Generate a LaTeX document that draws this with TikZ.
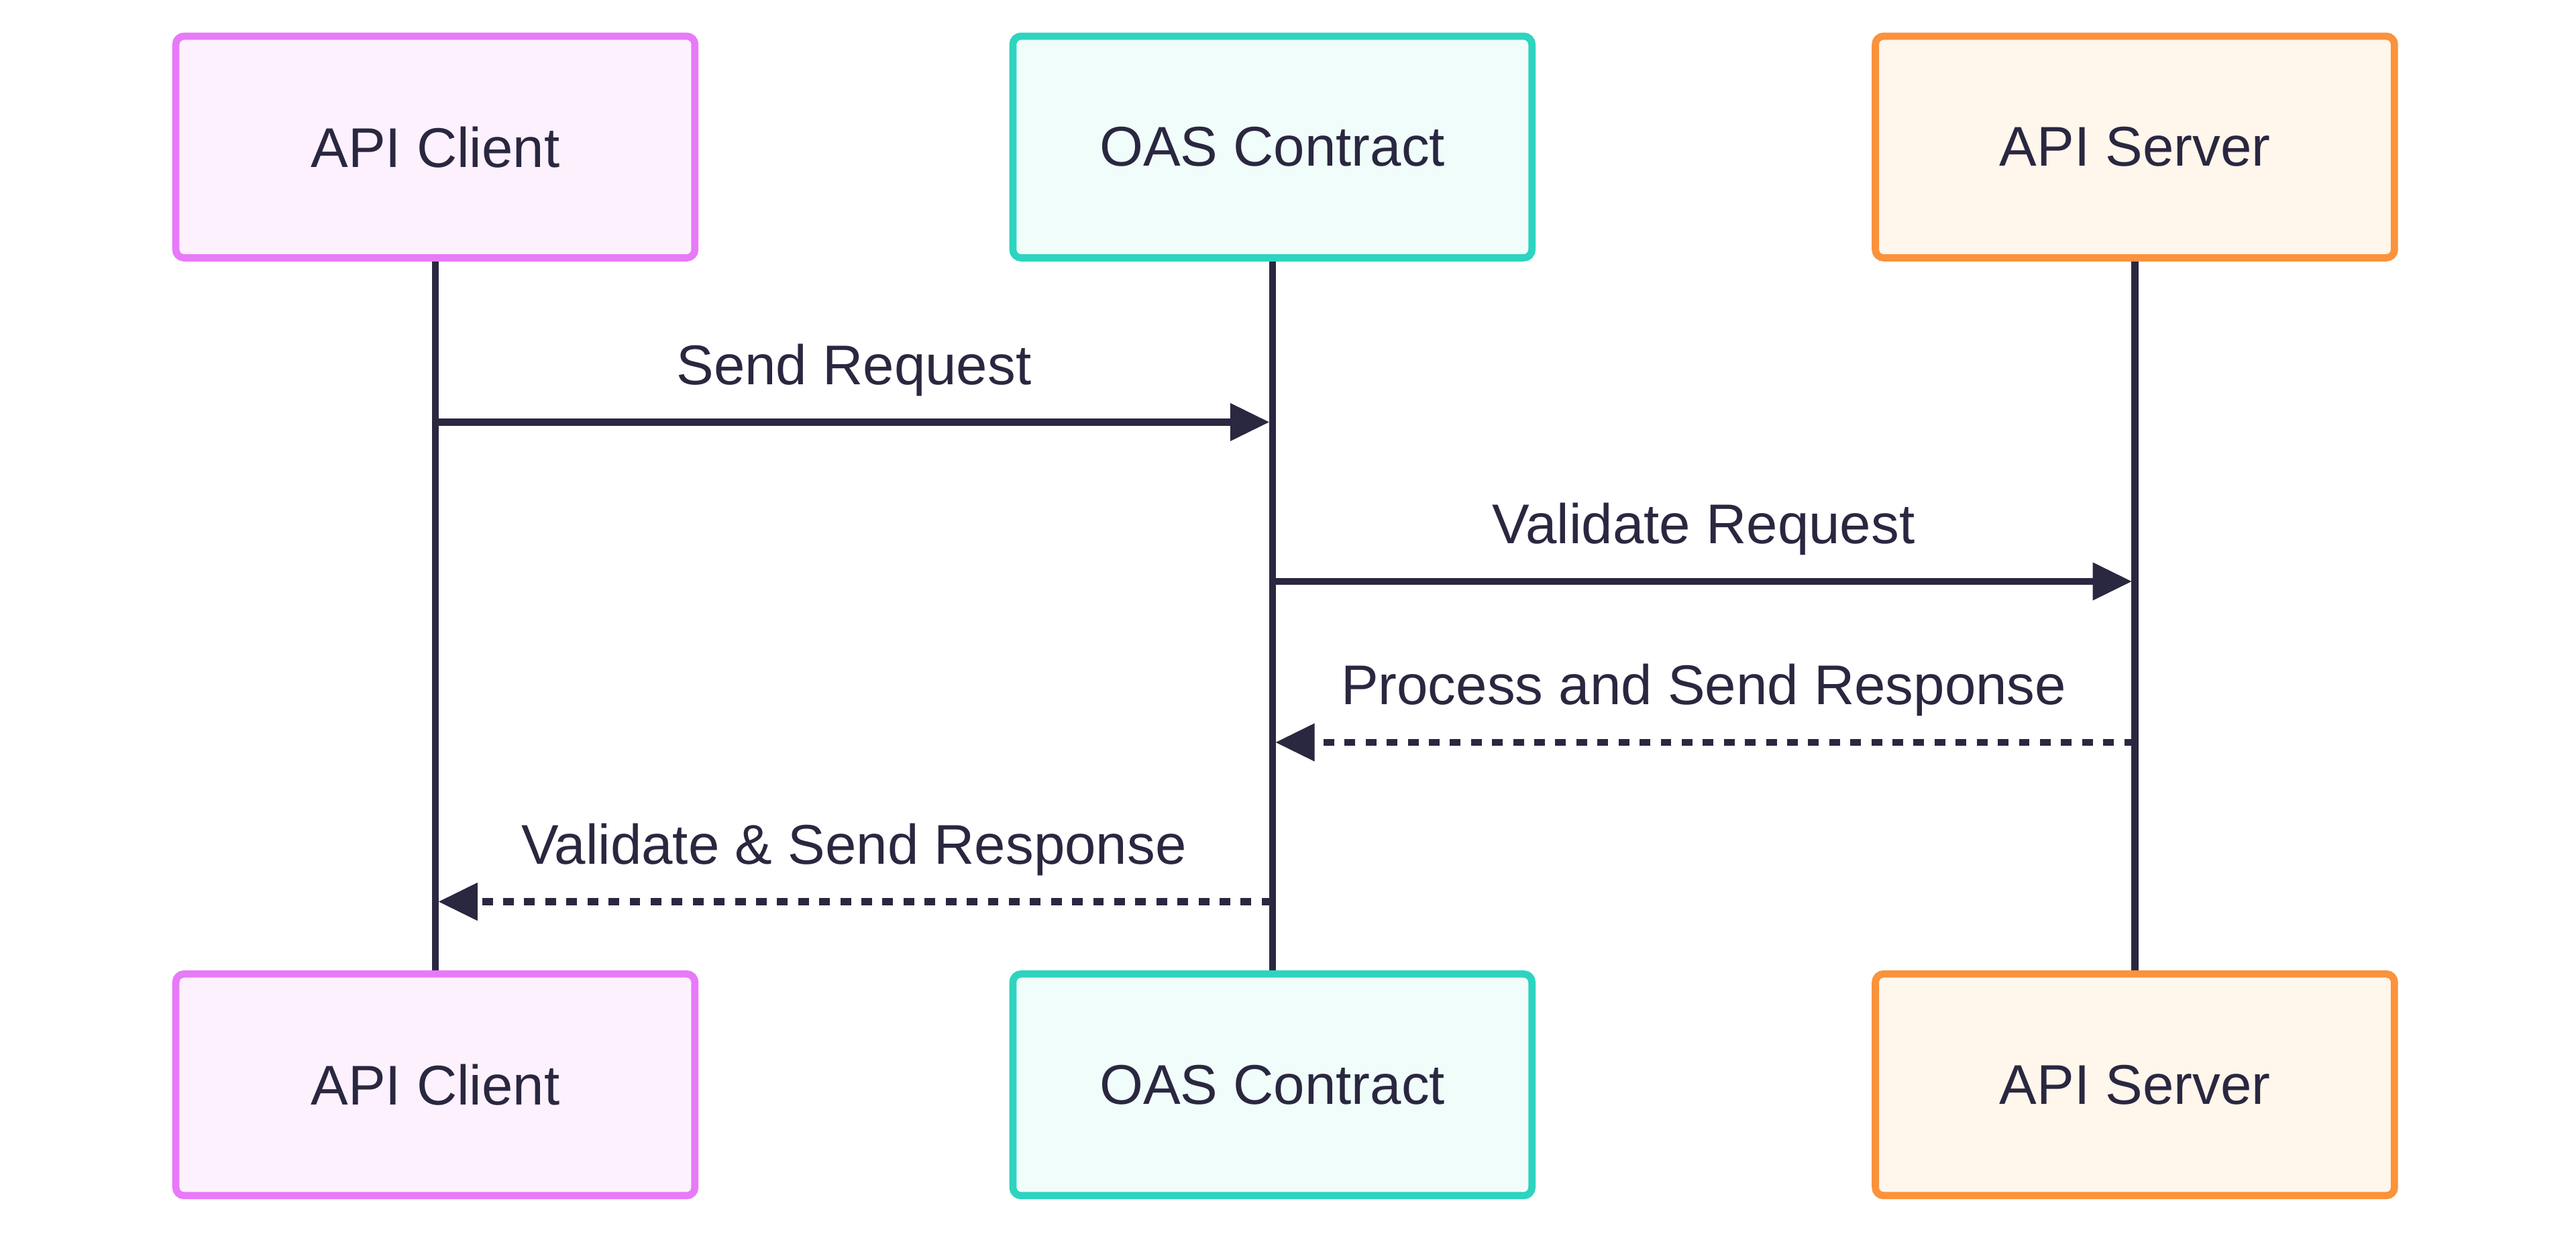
\documentclass[tikz,border=0pt]{standalone}
\usepackage{fontspec}
\setmainfont{Liberation Sans}
\usetikzlibrary{arrows.meta}
\definecolor{ink}{HTML}{2A2740}
\definecolor{pinkB}{HTML}{E879F9}
\definecolor{pinkF}{HTML}{FDF1FD}
\definecolor{tealB}{HTML}{2DD4BF}
\definecolor{tealF}{HTML}{F0FDFA}
\definecolor{orgB}{HTML}{FB923C}
\definecolor{orgF}{HTML}{FFF6EC}
\tikzset{
  actor/.style={draw, line width=2.5pt, rounded corners=0.1cm, minimum width=6.32cm, minimum height=2.7cm, inner sep=0pt, text=ink, font=\fontsize{19.4}{23}\selectfont},
  client/.style={actor, draw=pinkB, fill=pinkF},
  contract/.style={actor, draw=tealB, fill=tealF},
  server/.style={actor, draw=orgB, fill=orgF},
  life/.style={draw=ink, line width=2.4pt},
  msg/.style={draw=ink, line width=2.5pt, -{Triangle[length=13.6pt 0 0,width=12.5pt 0 0]}},
  reply/.style={msg, dash pattern=on 3.7pt off 3.6pt},
  msglabel/.style={text=ink, font=\fontsize{19.4}{23}\selectfont, anchor=base, inner sep=0pt, yshift=0.46cm}
}
\begin{document}
\begin{tikzpicture}[x=0.02cm, y=-0.02cm]
\useasboundingbox (0,0) rectangle (1568,755);
% lifelines (behind boxes)
\coordinate (lc) at (265,159);
\coordinate (lo) at (774.5,159);
\coordinate (ls) at (1299.5,159);
\coordinate (lcb) at (265,591);
\coordinate (lob) at (774.5,591);
\coordinate (lsb) at (1299.5,591);
\draw[life] (lc) -- (lcb);
\draw[life] (lo) -- (lob);
\draw[life] (ls) -- (lsb);
% actors
\node[client]   (c1) at (265,89.5)    {API Client};
\node[contract] (o1) at (774.5,89.5)  {OAS Contract};
\node[server]   (s1) at (1299.5,89.5) {API Server};
\node[client]   (c2) at (265,660.5)    {API Client};
\node[contract] (o2) at (774.5,660.5)  {OAS Contract};
\node[server]   (s2) at (1299.5,660.5) {API Server};
% message anchor points on lifelines
\coordinate (m1a) at (c1 |- 0,257);
\coordinate (m1b) at (o1 |- 0,257);
\coordinate (m2a) at (o1 |- 0,354);
\coordinate (m2b) at (s1 |- 0,354);
\coordinate (m3a) at (s1 |- 0,452);
\coordinate (m3b) at (o1 |- 0,452);
\coordinate (m4a) at (o1 |- 0,549);
\coordinate (m4b) at (c1 |- 0,549);
\draw[msg, shorten >=1pt] (m1a) -- (m1b) node[msglabel, midway] {Send Request};
\draw[msg, shorten >=1pt] (m2a) -- (m2b) node[msglabel, midway] {Validate Request};
\draw[reply, shorten >=1pt] (m3a) -- (m3b) node[msglabel, midway] {Process and Send Response};
\draw[reply, shorten >=1pt] (m4a) -- (m4b) node[msglabel, midway] {Validate \& Send Response};
\end{tikzpicture}
\end{document}
